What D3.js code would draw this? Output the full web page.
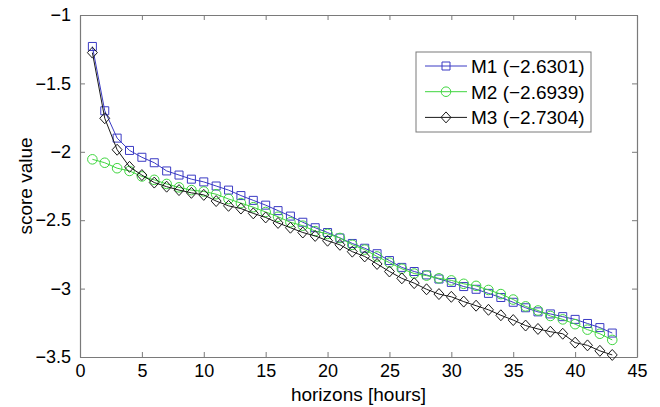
<!DOCTYPE html>
<html>
<head>
<meta charset="utf-8">
<script src="https://cdnjs.cloudflare.com/ajax/libs/d3/7.8.5/d3.min.js"></script>
<style>
  body { margin: 0; background: #fff; }
  text { font-family: "Liberation Sans", Arial, sans-serif; }
</style>
</head>
<body>
<div id="chart"></div>
<script>
var w = 660;
var h = 407;
var margin = { top: 15, right: 23, bottom: 50, left: 80 };

var width = w - margin.left - margin.right;
var height = h - margin.top - margin.bottom;

// horizons 1..43
var horizons = d3.range(1, 44);

var m1 = [-1.23, -1.70, -1.90, -1.99, -2.04, -2.08, -2.14, -2.17, -2.20, -2.22,
          -2.25, -2.28, -2.32, -2.355, -2.39, -2.43, -2.47, -2.515, -2.555, -2.59,
          -2.63, -2.67, -2.705, -2.745, -2.795, -2.845, -2.875, -2.90, -2.93, -2.955,
          -2.985, -3.005, -3.035, -3.065, -3.10, -3.14, -3.17, -3.185, -3.205, -3.225,
          -3.255, -3.285, -3.325];
var m2 = [-2.055, -2.08, -2.12, -2.14, -2.18, -2.205, -2.235, -2.26, -2.28, -2.29,
          -2.31, -2.345, -2.375, -2.405, -2.44, -2.475, -2.515, -2.54, -2.58, -2.60,
          -2.63, -2.68, -2.715, -2.765, -2.81, -2.855, -2.89, -2.905, -2.925, -2.94,
          -2.965, -2.98, -3.01, -3.04, -3.08, -3.13, -3.16, -3.20, -3.225, -3.26,
          -3.30, -3.33, -3.375];
var m3 = [-1.275, -1.755, -1.985, -2.11, -2.17, -2.225, -2.255, -2.28, -2.30, -2.315,
          -2.36, -2.395, -2.415, -2.45, -2.48, -2.52, -2.555, -2.59, -2.615, -2.65,
          -2.68, -2.73, -2.765, -2.82, -2.875, -2.925, -2.96, -3.005, -3.04, -3.06,
          -3.095, -3.125, -3.155, -3.195, -3.23, -3.27, -3.295, -3.315, -3.33, -3.395,
          -3.415, -3.455, -3.485];

var seriesNames = ["M1 (\u22122.6301)", "M2 (\u22122.6939)", "M3 (\u22122.7304)"];
var seriesColors = ["#3b3bc4", "#3fd63f", "#1a1a1a"];
var seriesMarkers = ["square", "circle", "diamond"];

var xTicks = [0, 5, 10, 15, 20, 25, 30, 35, 40, 45];
var yTicks = [-1, -1.5, -2, -2.5, -3, -3.5];

var series = [m1, m2, m3].map(function(vals, i) {
    return {
        name: seriesNames[i],
        color: seriesColors[i],
        marker: seriesMarkers[i],
        values: vals.map(function(v, j) { return { x: horizons[j], y: v }; })
    };
});

var xScale = d3.scaleLinear().domain([0, 45]).range([0, width]);
var yScale = d3.scaleLinear().domain([-3.5, -1]).range([height, 0]);

var svg = d3.select("#chart")
    .append("svg")
    .attr("width", w)
    .attr("height", h)
    .append("g")
    .attr("transform", "translate(" + margin.left + "," + margin.top + ")");

function fmt(d) { return d3.format("")(d).replace("-", "\u2212"); }

// Axes with inward ticks (MATLAB style)
var axisColor = "#7a7a7a";
var xAxis = svg.append("g")
    .attr("transform", "translate(0," + height + ")")
    .call(d3.axisBottom(xScale).tickValues(xTicks).tickSizeInner(-5).tickSizeOuter(0).tickPadding(7).tickFormat(fmt));
var xAxisTop = svg.append("g")
    .call(d3.axisTop(xScale).tickValues(xTicks).tickSizeInner(-5).tickSizeOuter(0).tickFormat(""));
var yAxis = svg.append("g")
    .call(d3.axisLeft(yScale).tickValues(yTicks).tickSizeInner(-5).tickSizeOuter(0).tickPadding(9).tickFormat(fmt));
var yAxisRight = svg.append("g")
    .attr("transform", "translate(" + width + ",0)")
    .call(d3.axisRight(yScale).tickValues(yTicks).tickSizeInner(-5).tickSizeOuter(0).tickFormat(""));

[xAxis, xAxisTop, yAxis, yAxisRight].forEach(function(a) {
    a.selectAll("path").attr("stroke", axisColor).attr("stroke-width", 1.2);
    a.selectAll("line").attr("stroke", axisColor).attr("stroke-width", 1);
    a.selectAll("text").attr("fill", "#000").style("font-size", "18px")
        .style("font-family", "'Liberation Sans', Arial, sans-serif");
});

// Axis labels
svg.append("text")
    .attr("x", width / 2)
    .attr("y", height + 44)
    .attr("text-anchor", "middle")
    .style("font-size", "19px")
    .text("horizons [hours]");

svg.append("text")
    .attr("transform", "translate(" + (32 - margin.left) + "," + (height / 2) + ") rotate(-90)")
    .attr("text-anchor", "middle")
    .style("font-size", "19px")
    .text("score value");

// Lines
var line = d3.line()
    .x(function(d) { return xScale(d.x); })
    .y(function(d) { return yScale(d.y); });

// custom wide diamond, like MATLAB's 'd' marker
var wideDiamond = {
    draw: function(ctx, size) {
        var r = Math.sqrt(size) / 1.5;
        ctx.moveTo(0, -r * 1.1);
        ctx.lineTo(r, 0);
        ctx.lineTo(0, r * 1.1);
        ctx.lineTo(-r, 0);
        ctx.closePath();
    }
};
var symbolTypes = { square: d3.symbolSquare, circle: d3.symbolCircle, diamond: wideDiamond };
var symbolSizes = { square: 64, circle: 72, diamond: 56 };

function drawMarker(sel, s) {
    sel.append("path")
        .attr("d", d3.symbol().type(symbolTypes[s.marker]).size(symbolSizes[s.marker])())
        .attr("fill", "none")
        .attr("stroke", s.color)
        .attr("stroke-width", 1);
}

series.forEach(function(s) {
    svg.append("path")
        .datum(s.values)
        .attr("d", line)
        .attr("fill", "none")
        .attr("stroke", s.color)
        .attr("stroke-width", 1);

    svg.append("g").selectAll("g")
        .data(s.values)
        .enter().append("g")
        .attr("transform", function(d) {
            return "translate(" + xScale(d.x) + "," + yScale(d.y) + ")";
        })
        .each(function() { drawMarker(d3.select(this), s); });
});

// Legend
var legend = svg.append("g")
    .attr("transform", "translate(" + (416 - margin.left) + "," + (52 - margin.top) + ")");

legend.append("rect")
    .attr("width", 175)
    .attr("height", 80)
    .attr("fill", "#fff")
    .attr("stroke", "#7a7a7a")
    .attr("stroke-width", 1);

series.forEach(function(s, i) {
    var y = 14 + i * 25.7;
    var row = legend.append("g").attr("transform", "translate(0," + y + ")");
    row.append("line")
        .attr("x1", 9).attr("x2", 51)
        .attr("y1", 0).attr("y2", 0)
        .attr("stroke", s.color).attr("stroke-width", 1);
    var m = row.append("g").attr("transform", "translate(30,0)");
    drawMarker(m, s);
    row.append("text")
        .attr("x", 55)
        .attr("y", 0)
        .attr("dy", "0.36em")
        .style("font-size", "19px")
        .text(s.name);
});
</script>
</body>
</html>
